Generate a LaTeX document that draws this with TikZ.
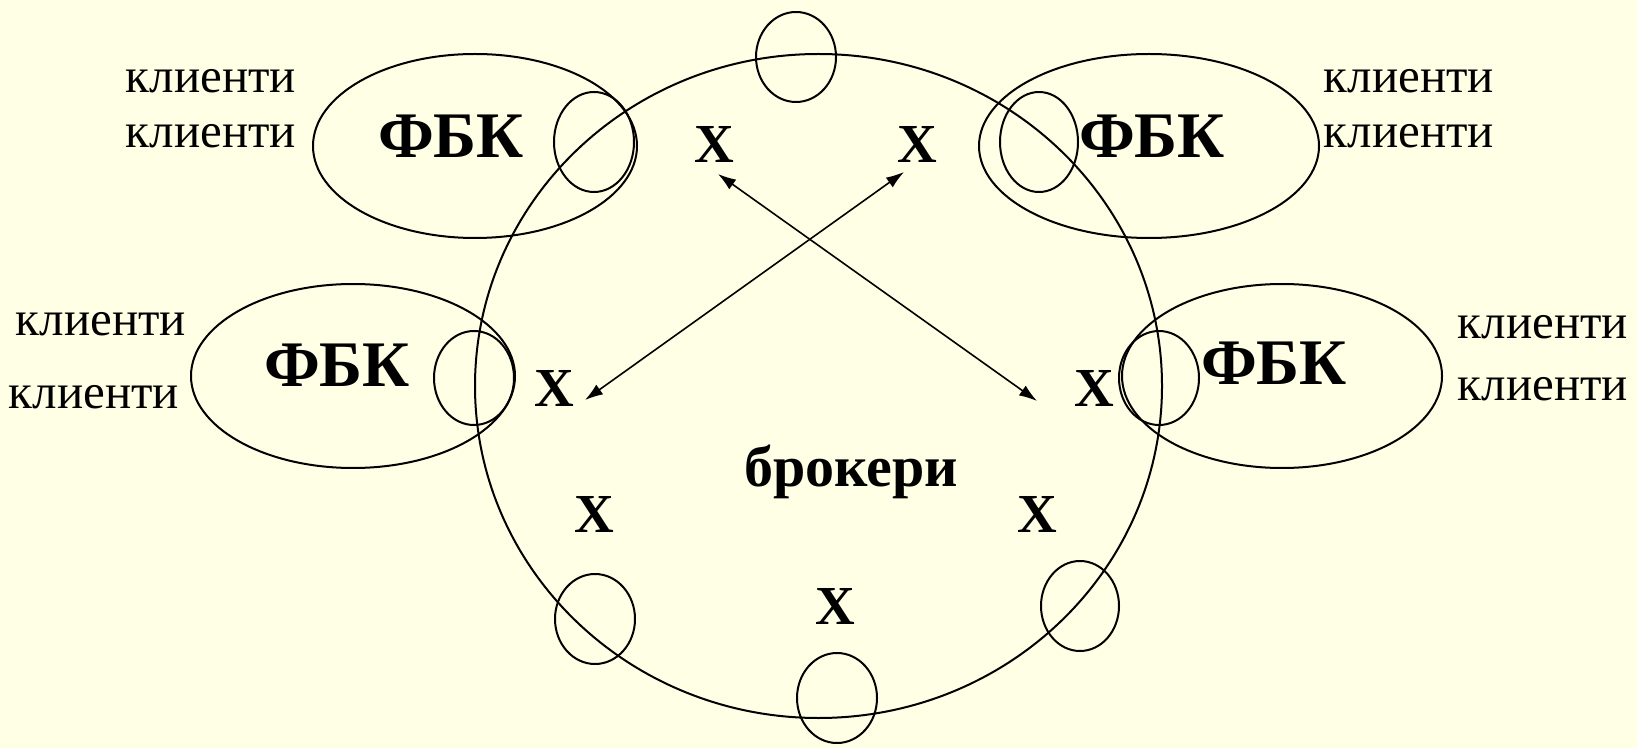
\documentclass[tikz,border=0pt]{standalone}
\usepackage{fontspec}
\setmainfont{Liberation Serif}
\usetikzlibrary{shapes.geometric,arrows.meta}
\definecolor{bg}{HTML}{FFFFE5}
\begin{document}
\begin{tikzpicture}[x=0.5pt,y=-0.5pt,
  ring/.style={draw,ellipse,line width=1pt,inner sep=0pt},
  fbk/.style={font=\fontsize{32.5}{39}\selectfont\bfseries,inner sep=0pt},
  cl/.style={font=\fontsize{24.5}{30}\selectfont,inner sep=0pt},
  xm/.style={font=\fontsize{27.5}{33}\selectfont\bfseries,inner sep=0pt},
  dbl/.style={{Latex[length=9pt,width=6pt]}-{Latex[length=9pt,width=6pt]},line width=0.8pt}]
\fill[bg] (0,0) rectangle (1637,748);
\useasboundingbox (0,0) rectangle (1637,748);
% main circle
\node[ring,minimum width=343.5pt,minimum height=332pt] (main) at (818.5,386) {};
% FBK big ellipses
\node[ring,minimum width=162pt,minimum height=92pt] (e1) at (475,146) {};
\node[ring,minimum width=170pt,minimum height=92pt] (e2) at (1149,146) {};
\node[ring,minimum width=162pt,minimum height=92pt] (e3) at (353,376) {};
\node[ring,minimum width=160pt,minimum height=92pt] (e4) at (1282,376) {};
% small ellipses
\node[ring,minimum width=40pt,minimum height=50pt] (s1) at (594,142) {};
\node[ring,minimum width=39pt,minimum height=50pt] (s2) at (1039,142) {};
\node[ring,minimum width=40pt,minimum height=47pt] (s3) at (474,378) {};
\node[ring,minimum width=40pt,minimum height=47pt] (s4) at (1159,378) {};
\node[ring,minimum width=40pt,minimum height=45pt] (s5) at (796,57) {};
\node[ring,minimum width=40pt,minimum height=45pt] (s6) at (595,619) {};
\node[ring,minimum width=40pt,minimum height=45pt] (s7) at (837,698) {};
\node[ring,minimum width=39pt,minimum height=45pt] (s8) at (1080,606) {};
% labels
\node[fbk] (f1) at (451,136) {ФБК};
\node[fbk] (f2) at (1152,136) {ФБК};
\node[fbk] (f3) at (337,365) {ФБК};
\node[fbk] (f4) at (1274,363) {ФБК};
\node[cl] (c1a) at (211,81) {клиенти};
\node[cl] (c1b) at (211,136) {клиенти};
\node[cl] (c2a) at (1409,81) {клиенти};
\node[cl] (c2b) at (1409,136) {клиенти};
\node[cl] (c3a) at (101,324) {клиенти};
\node[cl] (c3b) at (94,397) {клиенти};
\node[cl] (c4a) at (1543,327) {клиенти};
\node[cl] (c4b) at (1543,389) {клиенти};
\node[xm] (x1) at (714,144) {Х};
\node[xm] (x2) at (917,144) {Х};
\node[xm] (x3) at (554,388) {Х};
\node[xm] (x4) at (1094,388) {Х};
\node[xm] (x5) at (594,514) {Х};
\node[xm] (x6) at (1037,514) {Х};
\node[xm] (x7) at (835,606) {Х};
\node[font=\fontsize{29}{35}\selectfont\bfseries,inner sep=0pt] (br) at (851,472) {брокери};
% arrows
\coordinate (a1s) at (718,174);
\coordinate (a1e) at (1037,401);
\coordinate (a2s) at (904,172);
\coordinate (a2e) at (585,400);
\draw[dbl] (a1s) -- (a1e);
\draw[dbl] (a2s) -- (a2e);
\end{tikzpicture}
\end{document}
